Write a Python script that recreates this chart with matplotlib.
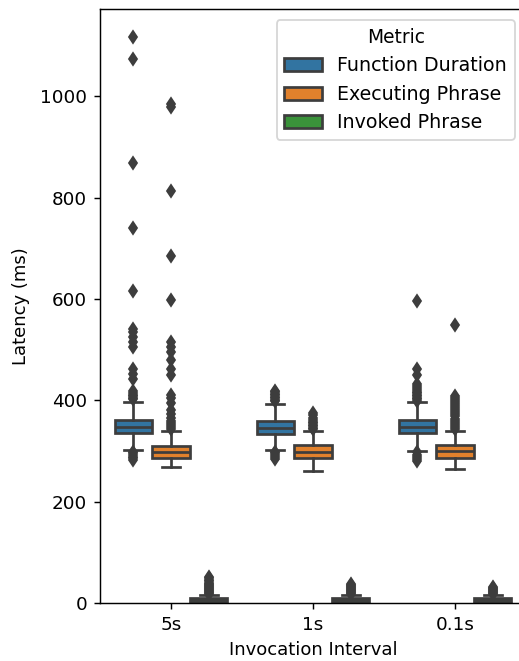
import colorsys
import matplotlib
matplotlib.use("Agg")
import matplotlib.pyplot as plt
from matplotlib.patches import Patch

# ------------------------------------------------------------
# Data
# ------------------------------------------------------------
intervals = ["5s", "1s", "0.1s"]
metrics = ["Function Duration", "Executing Phrase", "Invoked Phrase"]

# box statistics per metric, one value per interval
fd_whislo = [301, 301, 300]
fd_q1 = [335, 334, 335]
fd_med = [348, 346, 348]
fd_q3 = [362, 360, 362]
fd_whishi = [397, 393, 396]
fd_fliers = [
    [283, 286, 289, 292, 295, 298,
     402, 405, 408, 411, 415, 419, 442, 452, 462, 505, 515, 525, 535, 541,
     615, 739, 869, 1073, 1116],
    [285, 289, 292, 295, 298,
     398, 401, 404, 407, 410, 413, 416, 419],
    [281, 285, 289, 293, 297,
     399, 402, 405, 408, 411, 414, 417, 420, 424, 428, 432, 450, 462, 596],
]

ep_whislo = [268, 260, 265]
ep_q1 = [287, 287, 287]
ep_med = [298, 298, 299]
ep_q3 = [310, 311, 311]
ep_whishi = [340, 339, 340]
ep_fliers = [
    [344, 348, 352, 356, 360, 365, 372, 380, 395, 405, 411, 450, 461, 480,
     496, 505, 515, 598, 684, 813, 979, 985],
    [343, 346, 349, 352, 355, 358, 362, 366, 370, 375],
    [344, 348, 352, 356, 360, 364, 368, 372, 376, 380, 384, 388, 392, 396,
     400, 404, 408, 548],
]

ip_whislo = [0, 0, 0]
ip_q1 = [2, 2, 2]
ip_med = [5, 5, 5]
ip_q3 = [9, 9, 9]
ip_whishi = [16, 16, 16]
ip_fliers = [
    [18, 20, 22, 24, 26, 28, 30, 32, 34, 36, 38, 40, 43, 46, 49, 52],
    [18, 20, 22, 24, 26, 28, 30, 32, 34, 36, 38],
    [18, 20, 22, 24, 26, 28, 30, 32],
]

# ------------------------------------------------------------
# Style (old seaborn boxplot look)
# ------------------------------------------------------------
base_colors = ["#1f77b4", "#ff7f0e", "#2ca02c"]


def desaturate(hexcol, prop):
    r, g, b = matplotlib.colors.to_rgb(hexcol)
    h, l, s = colorsys.rgb_to_hls(r, g, b)
    return colorsys.hls_to_rgb(h, l, s * prop)


colors = [desaturate(c, 0.75) for c in base_colors]
lum = min(colorsys.rgb_to_hls(*c)[1] for c in colors) * 0.6
gray = (lum, lum, lum)
lw = 1.5

plt.rcParams["font.size"] = 10
plt.rcParams["xtick.labelsize"] = 10.2
plt.rcParams["ytick.labelsize"] = 10.2

fig = plt.figure(figsize=(519 / 130, 661 / 130), dpi=130)
ax = fig.add_axes([100 / 519, 58 / 661, 426 / 519, 594 / 661])

all_stats = [
    (fd_whislo, fd_q1, fd_med, fd_q3, fd_whishi, fd_fliers),
    (ep_whislo, ep_q1, ep_med, ep_q3, ep_whishi, ep_fliers),
    (ip_whislo, ip_q1, ip_med, ip_q3, ip_whishi, ip_fliers),
]

n = len(metrics)
each = 0.8 / n
offsets = [-0.8 / 2 + each / 2 + i * each for i in range(n)]

for m, (wlo, q1, med, q3, whi, fl) in enumerate(all_stats):
    stats = []
    for i in range(len(intervals)):
        stats.append(dict(whislo=wlo[i], q1=q1[i], med=med[i], q3=q3[i],
                          whishi=whi[i], fliers=fl[i]))
    positions = [i + offsets[m] for i in range(len(intervals))]
    ax.bxp(stats, positions=positions, widths=each * 0.98,
           patch_artist=True, manage_ticks=False,
           boxprops=dict(facecolor=colors[m], edgecolor=gray, linewidth=lw),
           medianprops=dict(color=gray, linewidth=lw),
           whiskerprops=dict(color=gray, linewidth=lw),
           capprops=dict(color=gray, linewidth=lw),
           flierprops=dict(marker="d", markersize=5, markerfacecolor=gray,
                           markeredgecolor=gray, linestyle="none"))

ax.set_xticks(range(len(intervals)))
ax.set_xticklabels(intervals)
ax.set_xlim(-0.5, len(intervals) - 0.5)
ax.set_ylim(0, 1172)
ax.set_yticks([0, 200, 400, 600, 800, 1000])
ax.set_xlabel("Invocation Interval")
ax.set_ylabel("Latency (ms)", labelpad=6)

handles = [Patch(facecolor=colors[i], edgecolor=gray, linewidth=lw, label=metrics[i])
           for i in range(n)]
ax.legend(handles=handles, title="Metric", loc="upper right",
          fontsize=10.5, title_fontsize=10.3, borderaxespad=0.6)

fig.savefig("out.png", dpi=130)
